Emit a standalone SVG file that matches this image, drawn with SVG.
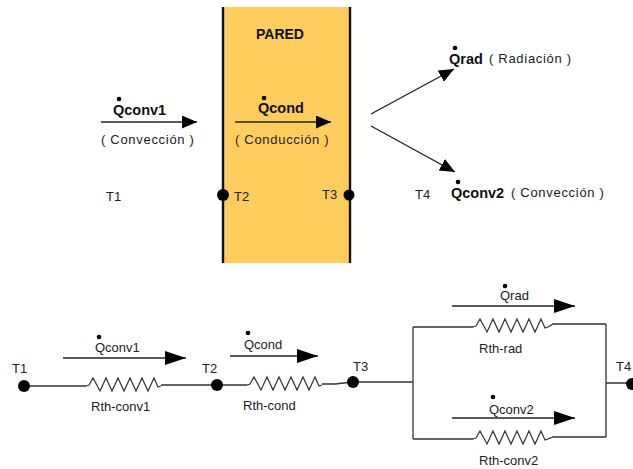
<svg xmlns="http://www.w3.org/2000/svg" width="633" height="469" viewBox="0 0 633 469">
<style>
text{font-family:"Liberation Sans",Arial,sans-serif;font-size:13px;fill:#222}
.b{font-weight:bold;font-size:14.5px;fill:#111}
.p{font-weight:bold;font-size:14px;fill:#111}
.s{font-size:13px;letter-spacing:.7px}
.l{fill:none;stroke:#222;stroke-width:1.4}
.w{fill:none;stroke:#111;stroke-width:2.4}
.c{fill:none;stroke:#333;stroke-width:1.3}
.r{fill:none;stroke:#333;stroke-width:1.2}
.d{fill:#000}
</style>
<defs>
<marker id="a" markerUnits="userSpaceOnUse" markerWidth="16" markerHeight="14" refX="15" refY="6.5" orient="auto"><path d="M0 0L15 6.5L0 13Z" fill="#000"/></marker>
<marker id="a2" markerUnits="userSpaceOnUse" markerWidth="22" markerHeight="16" refX="21" refY="7" orient="auto"><path d="M0 0L21 7L0 14Z" fill="#000"/></marker>
<path id="z" d="M0 0L3 -1L7 -8L14 5L20 -8L26 5L32 -8L38 5L44 -8L50 5L56 -8L62 5L68 -8L72 1L75 0"/>
</defs>
<g id="pared">
<rect x="223" y="7" width="127" height="256" fill="#FFCD5E"/>
<path class="w" d="M223 7V263M350 7V263"/>
<text class="p" x="256" y="39">PARED</text>
</g>
<g id="connectors">
<path class="l" d="M101 122H197" marker-end="url(#a)"/>
<path class="l" d="M235 122H331" marker-end="url(#a)"/>
<path class="l" d="M371 114L454 69" marker-end="url(#a)"/>
<path class="l" d="M371 126L455 172" marker-end="url(#a)"/>
<path class="c" d="M24 386H86M161 385H247M322 384H335L353 382H413M413 327V439M413 327H473M413 439H473M548 327L553 324H606M548 439L553 437H606M606 324V437M606 383H632"/>
<use href="#z" class="r" x="86" y="386"/>
<use href="#z" class="r" x="247" y="385"/>
<use href="#z" class="r" x="473" y="327"/>
<use href="#z" class="r" x="473" y="439"/>
<path class="l" d="M63 358H186" marker-end="url(#a2)"/>
<path class="l" d="M230 356H318" marker-end="url(#a2)"/>
<path class="l" d="M452 306H575" marker-end="url(#a2)"/>
<path class="l" d="M452 418H575" marker-end="url(#a2)"/>
</g>
<g id="q-conv1"><circle class="d" cx="119" cy="99" r="2.3"/><text class="b" x="113" y="115">Qconv1</text><text class="s" x="101" y="144">( Convección )</text></g>
<g id="q-cond"><circle class="d" cx="264" cy="98" r="2.3"/><text class="b" x="258" y="113">Qcond</text><text class="s" x="235" y="144">( Conducción )</text></g>
<g id="q-rad"><circle class="d" cx="455" cy="48" r="2.3"/><text class="b" x="449" y="64">Qrad</text><text class="s" x="489" y="63">( Radiación )</text></g>
<g id="q-conv2"><circle class="d" cx="458" cy="182" r="2.3"/><text class="b" x="451" y="198">Qconv2</text><text class="s" x="511" y="197">( Convección )</text></g>
<g id="top-t1"><text x="106" y="201">T1</text></g>
<g id="top-t2"><circle class="d" cx="223" cy="195" r="6"/><text x="234" y="201">T2</text></g>
<g id="top-t3"><circle class="d" cx="349" cy="195" r="5.5"/><text x="322" y="199">T3</text></g>
<g id="top-t4"><text x="415" y="199">T4</text></g>
<g id="n-t1"><circle class="d" cx="24" cy="386" r="6"/><text x="12" y="373">T1</text></g>
<g id="n-t2"><circle class="d" cx="217" cy="385" r="6"/><text x="202" y="373">T2</text></g>
<g id="n-t3"><circle class="d" cx="353" cy="382" r="6"/><text x="353" y="371">T3</text></g>
<g id="n-t4"><circle class="d" cx="632" cy="384" r="6"/><text x="616" y="371">T4</text></g>
<g id="r-conv1"><circle class="d" cx="99" cy="337" r="2.3"/><text x="95" y="352">Qconv1</text><text x="91" y="411">Rth-conv1</text></g>
<g id="r-cond"><circle class="d" cx="248" cy="333" r="2.3"/><text x="244" y="349">Qcond</text><text x="243" y="410">Rth-cond</text></g>
<g id="r-rad"><circle class="d" cx="505" cy="286" r="2.3"/><text x="500" y="300">Qrad</text><text x="479" y="353">Rth-rad</text></g>
<g id="r-conv2"><circle class="d" cx="493" cy="397" r="2.3"/><text x="489" y="414">Qconv2</text><text x="479" y="465">Rth-conv2</text></g>
</svg>
